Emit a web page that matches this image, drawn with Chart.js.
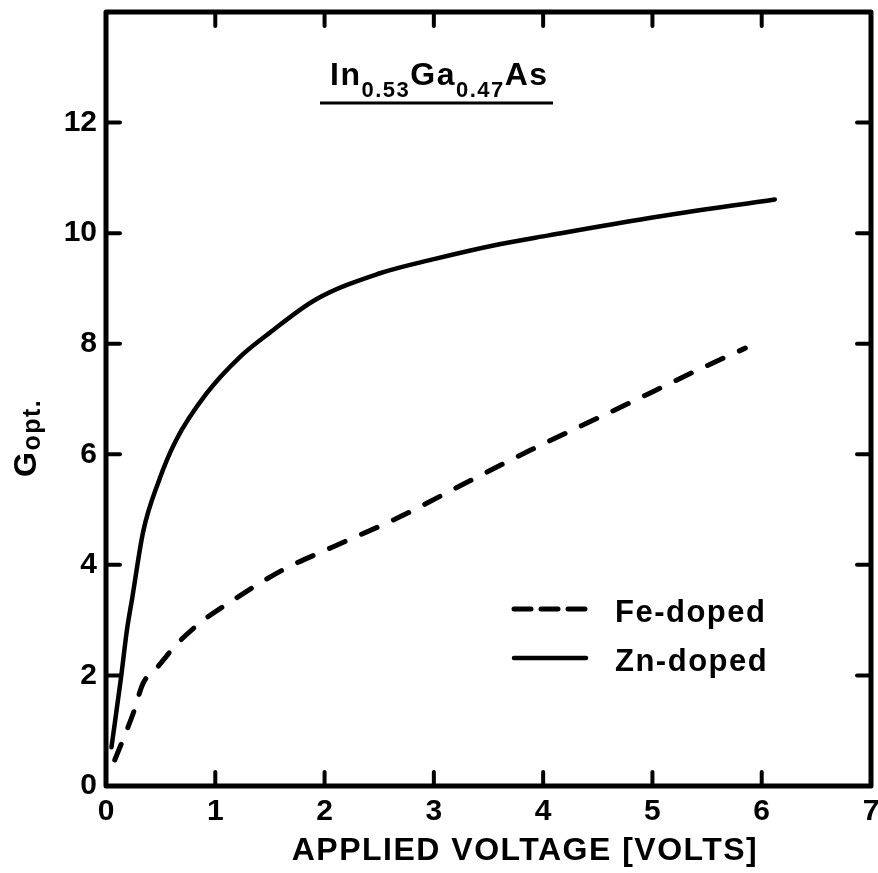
<!DOCTYPE html>
<html>
<head>
<meta charset="utf-8">
<script src="https://cdn.jsdelivr.net/npm/chart.js@4.4.1/dist/chart.umd.min.js"></script>
<style>
  html, body { margin: 0; padding: 0; background: #fff; }
  #wrap { width: 878px; height: 873px; position: relative; }
</style>
</head>
<body>
<div id="wrap"><canvas id="gainChart"></canvas></div>
<script>
// values
const voltsFe = [0.08, 0.25, 0.34, 0.45, 0.64, 0.86, 1.16, 1.62, 2.07, 2.68, 3.29, 3.89, 4.75, 5.41, 5.85];
const gainFe  = [0.47, 1.32, 1.86, 2.10, 2.55, 2.95, 3.36, 3.91, 4.32, 4.86, 5.48, 6.08, 6.89, 7.52, 7.92];

const voltsZn = [0.05, 0.14, 0.19, 0.24, 0.34, 0.48, 0.64, 0.92, 1.22, 1.50, 1.92, 2.50, 3.00, 3.60, 4.05, 4.96, 6.12];
const gainZn  = [0.70, 2.00, 2.80, 3.40, 4.60, 5.50, 6.25, 7.10, 7.75, 8.20, 8.80, 9.27, 9.53, 9.80, 9.96, 10.27, 10.61];

const xTicks = [0, 1, 2, 3, 4, 5, 6, 7];
const yTicks = [0, 2, 4, 6, 8, 10, 12];

const seriesLabels = ['Fe-doped', 'Zn-doped'];
const xTitle = 'APPLIED VOLTAGE [VOLTS]';
const yTitle = ['G', 'opt.'];
const formula = [['In', false], ['0.53', true], ['Ga', false], ['0.47', true], ['As', false]];

const FONT = '"Liberation Sans", Arial, sans-serif';

const toPoints = (xs, ys) => xs.map((x, i) => ({ x: x, y: ys[i] }));

// frame, inward ticks, titles and legend
const decorations = {
  id: 'decorations',
  afterDraw(chart) {
    const c = chart.ctx;
    const a = chart.chartArea;
    const xs = chart.scales.x, ys = chart.scales.y;
    c.save();
    c.strokeStyle = '#000';
    c.fillStyle = '#000';

    // ticks
    c.lineWidth = 4;
    c.lineCap = 'round';
    xTicks.forEach(v => {
      if (v === 0 || v === 7) return;
      const px = xs.getPixelForValue(v);
      c.beginPath();
      c.moveTo(px, a.bottom); c.lineTo(px, a.bottom - 14);
      c.moveTo(px, a.top); c.lineTo(px, a.top + 14);
      c.stroke();
    });
    yTicks.forEach(v => {
      if (v === 0) return;
      const py = ys.getPixelForValue(v);
      c.beginPath();
      c.moveTo(a.left, py); c.lineTo(a.left + 14, py);
      c.moveTo(a.right, py); c.lineTo(a.right - 14, py);
      c.stroke();
    });

    // frame
    c.lineCap = 'butt';
    c.lineJoin = 'round';
    c.lineWidth = 5;
    c.strokeRect(a.left, a.top, a.right - a.left, a.bottom - a.top);

    // formula title
    c.letterSpacing = '1.5px';
    c.textBaseline = 'alphabetic';
    c.textAlign = 'left';
    let tx = 330;
    formula.forEach(([t, sub]) => {
      c.font = sub ? 'bold 22px ' + FONT : 'bold 32px ' + FONT;
      c.fillText(t, tx, sub ? 97 : 85);
      tx += c.measureText(t).width;
    });
    c.lineWidth = 3;
    c.beginPath();
    c.moveTo(320, 103); c.lineTo(553, 103);
    c.stroke();

    // legend (the sample dash is tighter than on the curve, as in the figure)
    chart.data.datasets.forEach((ds, i) => {
      const ly = 609 + i * 49;
      c.lineWidth = ds.borderWidth;
      c.lineCap = 'round';
      c.setLineDash(ds.borderDash ? [17, 10] : []);
      c.beginPath();
      c.moveTo(514, ly); c.lineTo(586, ly);
      c.stroke();
      c.setLineDash([]);
      c.font = 'bold 31px ' + FONT;
      c.fillText(ds.label, 615, ly + 13);
    });

    // x title
    c.font = 'bold 32px ' + FONT;
    c.textAlign = 'center';
    c.fillText(xTitle, 525, 860);

    // y title, rotated
    c.translate(36, 477);
    c.rotate(-Math.PI / 2);
    c.textAlign = 'left';
    c.font = 'bold 32px ' + FONT;
    c.fillText(yTitle[0], 0, 0);
    const gw = c.measureText(yTitle[0]).width;
    c.font = 'bold 25px ' + FONT;
    c.fillText(yTitle[1], gw, 4);
    c.restore();
  }
};

const data = {
  datasets: [
    {
      label: seriesLabels[0],
      data: toPoints(voltsFe, gainFe),
      borderColor: '#000',
      borderWidth: 5,
      borderDash: [17, 18],
      borderCapStyle: 'round',
      pointRadius: 0,
      cubicInterpolationMode: 'monotone',
    },
    {
      label: seriesLabels[1],
      data: toPoints(voltsZn, gainZn),
      borderColor: '#000',
      borderWidth: 4.5,
      borderCapStyle: 'round',
      pointRadius: 0,
      cubicInterpolationMode: 'monotone',
    }
  ]
};

const config = {
  type: 'line',
  data: data,
  options: {
    responsive: true,
    maintainAspectRatio: false,
    animation: false,
    events: [],
    layout: { padding: { top: 12, right: 7, left: 0, bottom: 0 } },
    plugins: {
      legend: { display: false },
      tooltip: { enabled: false },
    },
    scales: {
      x: {
        type: 'linear',
        min: 0,
        max: 7,
        afterBuildTicks: s => { s.ticks = xTicks.map(v => ({ value: v })); },
        afterFit: s => { s.height = 87; s.paddingLeft = 0; s.paddingRight = 0; },
        grid: { display: false, drawTicks: false },
        border: { display: false },
        ticks: {
          color: '#000',
          padding: 8,
          maxRotation: 0,
          font: { family: FONT, size: 30, weight: 'bold' },
        },
      },
      y: {
        type: 'linear',
        min: 0,
        max: 14,
        afterBuildTicks: s => { s.ticks = yTicks.map(v => ({ value: v })); },
        afterFit: s => { s.width = 106; s.paddingTop = 0; s.paddingBottom = 0; },
        grid: { display: false, drawTicks: false },
        border: { display: false },
        ticks: {
          color: '#000',
          padding: 9,
          font: { family: FONT, size: 30, weight: 'bold' },
        },
      }
    }
  },
  plugins: [decorations],
};

new Chart(document.getElementById('gainChart'), config);
</script>
</body>
</html>
